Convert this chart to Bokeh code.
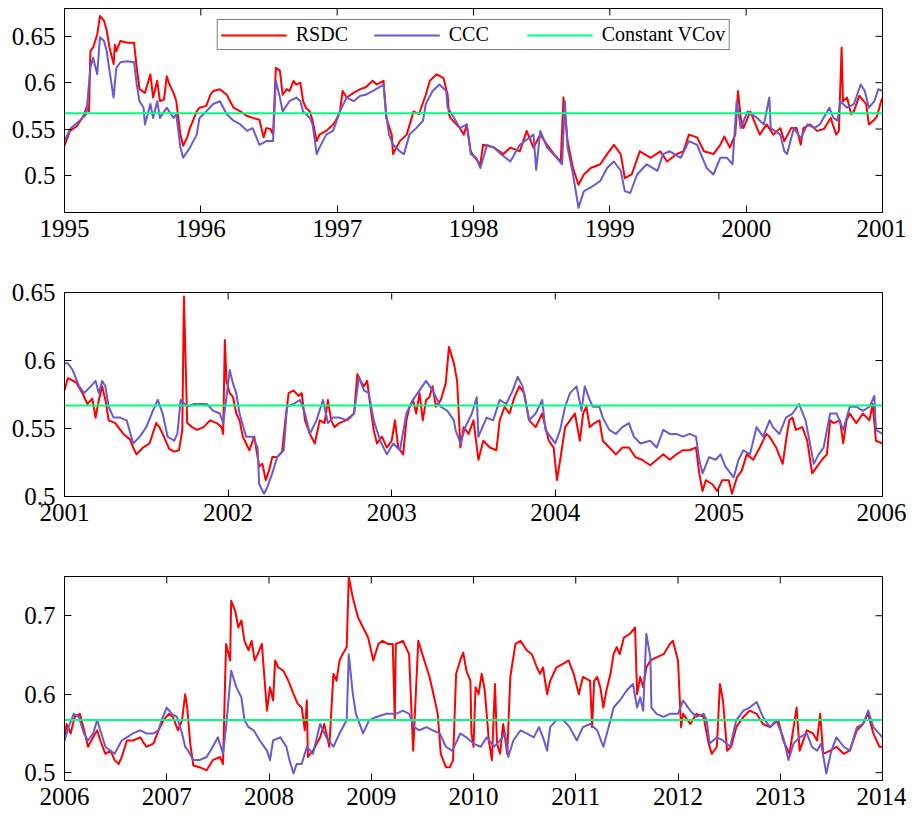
from bokeh.plotting import figure
from bokeh.layouts import column
from bokeh.models import FixedTicker, Legend, LegendItem, Range1d, CustomJSTickFormatter
from bokeh.embed import file_html
from bokeh.resources import INLINE

SERIES_NAMES = ["RSDC", "CCC", "Constant VCov"]
CONST_VCOV = 0.567

# ---------------- Panel 1: 1995-2001 ----------------
p1_years = [1995, 1996, 1997, 1998, 1999, 2000, 2001]
p1_year_labels = ["1995", "1996", "1997", "1998", "1999", "2000", "2001"]
p1_yticks = [0.5, 0.55, 0.6, 0.65]
p1_ylabels = ["0.5", "0.55", "0.6", "0.65"]
p1_yrange = [0.46, 0.68]

p1_rsdc_t = [1995.00,1995.04,1995.09,1995.14,1995.16,1995.18,1995.19,1995.21,1995.24,1995.26,1995.29,1995.31,1995.33,1995.36,1995.37,1995.38,1995.41,1995.46,1995.51,1995.53,1995.55,1995.59,1995.63,1995.65,1995.68,1995.70,1995.73,1995.75,1995.77,1995.80,1995.82,1995.85,1995.87,1995.90,1995.92,1995.97,1995.99,1996.04,1996.07,1996.09,1996.14,1996.19,1996.24,1996.29,1996.34,1996.38,1996.43,1996.46,1996.48,1996.51,1996.53,1996.55,1996.58,1996.60,1996.63,1996.65,1996.68,1996.70,1996.73,1996.75,1996.77,1996.80,1996.82,1996.85,1996.87,1996.92,1996.97,1996.99,1997.02,1997.04,1997.07,1997.12,1997.17,1997.21,1997.26,1997.29,1997.34,1997.36,1997.40,1997.41,1997.46,1997.51,1997.56,1997.60,1997.65,1997.68,1997.73,1997.78,1997.81,1997.82,
             1997.83,1997.90,1997.93,1997.95,1997.98,1998.00,1998.05,1998.07,1998.15,1998.22,1998.27,1998.34,1998.39,1998.44,1998.49,1998.54,1998.59,1998.64,1998.66,1998.69,1998.73,1998.77,1998.81,1998.86,1998.93,1998.98,1999.03,1999.08,1999.11,1999.16,1999.22,1999.30,1999.37,1999.42,1999.49,1999.54,1999.58,1999.64,1999.69,1999.76,1999.81,1999.84,1999.88,1999.92,1999.94,1999.96,1999.98,2000.03,2000.08,2000.10,2000.15,2000.20,2000.25,2000.28,2000.33,2000.37,2000.40,2000.42,2000.47,2000.52,2000.57,2000.62,2000.66,2000.68,2000.70,2000.71,2000.74,2000.77,2000.79,2000.83,2000.88,2000.90,2000.94,2000.96,2000.99,2001.00]
p1_rsdc_v = [0.532,0.548,0.553,0.564,0.573,0.569,0.634,0.638,0.652,0.672,0.667,0.656,0.638,0.620,0.641,0.634,0.645,0.643,0.643,0.616,0.593,0.589,0.609,0.584,0.602,0.580,0.582,0.607,0.598,0.589,0.580,0.544,0.532,0.541,0.551,0.569,0.573,0.575,0.587,0.591,0.593,0.587,0.573,0.569,0.564,0.562,0.560,0.541,0.551,0.550,0.544,0.616,0.613,0.587,0.593,0.591,0.602,0.598,0.600,0.580,0.573,0.569,0.559,0.537,0.544,0.548,0.555,0.559,0.569,0.591,0.584,0.589,0.593,0.595,0.602,0.598,0.602,0.562,0.544,0.523,0.537,0.544,0.569,0.566,0.587,0.602,0.609,0.605,0.587,0.566,
             0.562,0.551,0.544,0.555,0.526,0.521,0.512,0.533,0.530,0.523,0.530,0.526,0.548,0.530,0.544,0.533,0.523,0.515,0.584,0.537,0.508,0.490,0.501,0.508,0.512,0.523,0.533,0.523,0.497,0.501,0.526,0.519,0.526,0.515,0.523,0.526,0.544,0.541,0.526,0.523,0.533,0.542,0.530,0.544,0.591,0.562,0.551,0.569,0.551,0.544,0.555,0.544,0.551,0.537,0.551,0.551,0.533,0.551,0.555,0.548,0.550,0.562,0.544,0.548,0.638,0.580,0.584,0.566,0.569,0.586,0.577,0.555,0.560,0.564,0.580,0.584]

p1_ccc_t = [1995.00,1995.04,1995.11,1995.16,1995.19,1995.21,1995.24,1995.26,1995.29,1995.31,1995.33,1995.36,1995.38,1995.41,1995.46,1995.51,1995.53,1995.55,1995.58,1995.59,1995.63,1995.65,1995.68,1995.70,1995.75,1995.80,1995.82,1995.85,1995.87,1995.92,1995.97,1995.99,1996.04,1996.09,1996.14,1996.19,1996.24,1996.29,1996.34,1996.38,1996.43,1996.48,1996.53,1996.55,1996.58,1996.60,1996.65,1996.70,1996.73,1996.75,1996.80,1996.82,1996.85,1996.87,1996.92,1996.97,1997.02,1997.07,1997.12,1997.17,1997.21,1997.26,1997.34,1997.36,1997.38,1997.41,1997.46,1997.49,1997.53,1997.58,1997.63,1997.65,1997.70,1997.75,1997.80,1997.81,
            1997.83,1997.90,1997.95,1997.98,1998.02,1998.05,1998.10,1998.15,1998.20,1998.27,1998.34,1998.44,1998.46,1998.49,1998.54,1998.61,1998.65,1998.67,1998.69,1998.73,1998.77,1998.81,1998.86,1998.93,1998.98,1999.03,1999.08,1999.11,1999.15,1999.20,1999.27,1999.35,1999.39,1999.44,1999.52,1999.58,1999.64,1999.71,1999.76,1999.81,1999.86,1999.90,1999.93,1999.96,2000.01,2000.08,2000.13,2000.17,2000.18,2000.25,2000.28,2000.30,2000.35,2000.40,2000.45,2000.50,2000.54,2000.61,2000.64,2000.67,2000.69,2000.74,2000.79,2000.84,2000.87,2000.90,2000.94,2000.97,2001.00]
p1_ccc_v = [0.537,0.550,0.559,0.566,0.616,0.627,0.609,0.649,0.645,0.634,0.613,0.584,0.616,0.622,0.623,0.622,0.598,0.580,0.573,0.555,0.577,0.562,0.580,0.562,0.573,0.562,0.566,0.530,0.519,0.530,0.544,0.562,0.569,0.577,0.580,0.566,0.559,0.555,0.548,0.551,0.533,0.537,0.537,0.602,0.584,0.569,0.580,0.584,0.580,0.569,0.562,0.555,0.523,0.530,0.544,0.548,0.569,0.584,0.580,0.586,0.587,0.591,0.598,0.566,0.544,0.533,0.526,0.523,0.544,0.551,0.559,0.577,0.591,0.598,0.591,0.573,
            0.569,0.551,0.555,0.523,0.519,0.508,0.533,0.530,0.523,0.515,0.533,0.544,0.506,0.548,0.530,0.519,0.512,0.580,0.530,0.501,0.465,0.483,0.487,0.494,0.508,0.515,0.505,0.483,0.481,0.501,0.512,0.505,0.523,0.526,0.519,0.537,0.533,0.508,0.501,0.519,0.519,0.512,0.580,0.551,0.569,0.562,0.555,0.584,0.551,0.544,0.526,0.523,0.551,0.540,0.555,0.551,0.555,0.573,0.562,0.559,0.580,0.573,0.577,0.598,0.591,0.573,0.580,0.593,0.591]

# ---------------- Panel 2: 2001-2006 ----------------
p2_years = [2001, 2002, 2003, 2004, 2005, 2006]
p2_year_labels = ["2001", "2002", "2003", "2004", "2005", "2006"]
p2_yticks = [0.5, 0.55, 0.6, 0.65]
p2_ylabels = ["0.5", "0.55", "0.6", "0.65"]
p2_yrange = [0.5, 0.65]

p2_rsdc_t = [2001.00,2001.02,2001.07,2001.11,2001.14,2001.17,2001.19,2001.21,2001.23,2001.25,2001.27,2001.31,2001.36,2001.40,2001.42,2001.44,2001.48,2001.52,2001.56,2001.58,2001.60,2001.64,2001.67,2001.70,2001.72,2001.73,2001.75,2001.78,2001.81,2001.85,2001.89,2001.93,2001.96,2001.97,2001.98,2001.99,2002.01,2002.03,2002.05,2002.07,2002.09,2002.11,2002.13,2002.16,2002.19,2002.21,2002.23,2002.25,2002.27,2002.30,2002.33,2002.35,2002.37,2002.40,2002.43,2002.45,2002.47,2002.50,2002.53,2002.56,2002.59,2002.61,2002.63,2002.65,2002.68,2002.72,2002.77,2002.79,2002.81,2002.83,2002.85,2002.87,2002.89,2002.91,2002.94,2002.97,2003.00,2003.02,2003.04,2003.07,2003.09,2003.11,2003.13,2003.15,2003.17,2003.19,2003.21,2003.23,2003.25,2003.27,2003.30,2003.33,2003.35,2003.38,2003.40,2003.42,
             2003.44,2003.47,2003.50,2003.53,2003.56,2003.60,2003.64,2003.66,2003.69,2003.72,2003.75,2003.78,2003.81,2003.84,2003.88,2003.92,2003.96,2003.99,2004.01,2004.03,2004.06,2004.09,2004.12,2004.15,2004.17,2004.19,2004.21,2004.24,2004.27,2004.29,2004.33,2004.37,2004.41,2004.45,2004.49,2004.53,2004.58,2004.62,2004.66,2004.70,2004.74,2004.78,2004.82,2004.86,2004.88,2004.90,2004.92,2004.96,2004.99,2005.02,2005.06,2005.08,2005.11,2005.14,2005.17,2005.21,2005.25,2005.29,2005.31,2005.35,2005.39,2005.41,2005.43,2005.45,2005.47,2005.51,2005.54,2005.57,2005.60,2005.63,2005.66,2005.68,2005.70,2005.74,2005.76,2005.78,2005.80,2005.84,2005.88,2005.92,2005.94,2005.96,2006.00]
p2_rsdc_v = [0.578,0.587,0.584,0.576,0.568,0.572,0.558,0.571,0.581,0.571,0.556,0.554,0.546,0.542,0.536,0.531,0.536,0.539,0.554,0.551,0.546,0.535,0.533,0.534,0.549,0.647,0.554,0.551,0.549,0.551,0.556,0.554,0.551,0.546,0.615,0.585,0.576,0.573,0.561,0.556,0.544,0.539,0.534,0.544,0.522,0.524,0.512,0.519,0.529,0.529,0.533,0.556,0.576,0.578,0.574,0.576,0.556,0.546,0.539,0.556,0.554,0.571,0.556,0.551,0.554,0.556,0.561,0.590,0.585,0.581,0.585,0.566,0.549,0.539,0.544,0.536,0.541,0.556,0.536,0.531,0.556,0.566,0.571,0.561,0.576,0.556,0.571,0.573,0.581,0.566,0.571,0.583,0.610,0.598,0.585,0.536,
             0.551,0.546,0.556,0.527,0.541,0.536,0.534,0.556,0.566,0.561,0.573,0.581,0.576,0.556,0.551,0.561,0.541,0.536,0.512,0.527,0.551,0.556,0.561,0.541,0.561,0.566,0.551,0.554,0.556,0.541,0.536,0.531,0.536,0.536,0.529,0.527,0.523,0.527,0.531,0.527,0.531,0.534,0.534,0.536,0.517,0.504,0.512,0.509,0.504,0.512,0.512,0.502,0.514,0.519,0.531,0.527,0.536,0.546,0.544,0.536,0.524,0.541,0.556,0.558,0.549,0.551,0.541,0.517,0.522,0.527,0.531,0.556,0.554,0.556,0.539,0.556,0.561,0.554,0.561,0.556,0.568,0.541,0.539]

p2_ccc_t = [2001.00,2001.02,2001.05,2001.09,2001.12,2001.16,2001.19,2001.21,2001.23,2001.25,2001.27,2001.30,2001.34,2001.38,2001.42,2001.46,2001.50,2001.54,2001.57,2001.60,2001.63,2001.67,2001.69,2001.71,2001.75,2001.79,2001.83,2001.87,2001.91,2001.95,2001.97,2001.99,2002.01,2002.03,2002.05,2002.07,2002.11,2002.15,2002.18,2002.19,2002.22,2002.24,2002.27,2002.30,2002.34,2002.36,2002.40,2002.44,2002.47,2002.50,2002.54,2002.58,2002.61,2002.64,2002.68,2002.73,2002.77,2002.80,2002.83,2002.86,2002.89,2002.93,2002.97,2003.01,2003.05,2003.09,2003.13,2003.17,2003.21,2003.25,2003.30,2003.34,2003.38,
            2003.39,2003.42,2003.45,2003.49,2003.52,2003.53,2003.58,2003.62,2003.66,2003.70,2003.74,2003.77,2003.80,2003.84,2003.88,2003.92,2003.94,2003.97,2004.00,2004.03,2004.06,2004.09,2004.13,2004.16,2004.18,2004.21,2004.23,2004.27,2004.29,2004.33,2004.37,2004.41,2004.45,2004.48,2004.52,2004.58,2004.62,2004.66,2004.70,2004.74,2004.78,2004.82,2004.86,2004.88,2004.90,2004.94,2004.98,2005.01,2005.04,2005.09,2005.12,2005.15,2005.19,2005.23,2005.27,2005.31,2005.33,2005.37,2005.41,2005.45,2005.49,2005.53,2005.58,2005.61,2005.64,2005.68,2005.72,2005.76,2005.80,2005.84,2005.88,2005.92,2005.95,2005.96,2006.00]
p2_ccc_v = [0.598,0.598,0.593,0.581,0.576,0.581,0.585,0.576,0.585,0.581,0.566,0.558,0.558,0.556,0.539,0.544,0.551,0.563,0.571,0.561,0.544,0.541,0.546,0.571,0.566,0.568,0.568,0.568,0.563,0.561,0.554,0.573,0.593,0.583,0.576,0.561,0.544,0.544,0.536,0.509,0.502,0.507,0.517,0.529,0.534,0.566,0.568,0.571,0.561,0.546,0.556,0.571,0.554,0.558,0.558,0.556,0.561,0.588,0.578,0.576,0.556,0.541,0.531,0.539,0.534,0.561,0.571,0.578,0.585,0.578,0.566,0.563,0.556,
            0.549,0.539,0.551,0.561,0.573,0.544,0.558,0.556,0.571,0.568,0.578,0.588,0.581,0.556,0.561,0.571,0.549,0.544,0.539,0.549,0.566,0.576,0.581,0.563,0.581,0.571,0.566,0.566,0.558,0.549,0.546,0.551,0.554,0.544,0.539,0.541,0.536,0.549,0.546,0.546,0.544,0.546,0.544,0.527,0.517,0.529,0.527,0.531,0.522,0.514,0.527,0.534,0.531,0.551,0.544,0.556,0.551,0.546,0.558,0.561,0.568,0.556,0.524,0.531,0.536,0.561,0.561,0.549,0.566,0.566,0.563,0.566,0.574,0.549,0.546]

# ---------------- Panel 3: 2006-2014 ----------------
p3_years = [2006, 2007, 2008, 2009, 2010, 2011, 2012, 2013, 2014]
p3_year_labels = ["2006", "2007", "2008", "2009", "2010", "2011", "2012", "2013", "2014"]
p3_yticks = [0.5, 0.6, 0.7]
p3_ylabels = ["0.5", "0.6", "0.7"]
p3_yrange = [0.49, 0.75]

p3_rsdc_t = [2006.00,2006.02,2006.06,2006.10,2006.15,2006.20,2006.23,2006.28,2006.32,2006.35,2006.40,2006.45,2006.49,2006.53,2006.56,2006.61,2006.67,2006.74,2006.80,2006.87,2006.92,2006.97,2007.02,2007.06,2007.11,2007.15,2007.18,2007.20,2007.23,2007.26,2007.32,2007.39,2007.45,2007.52,2007.55,2007.58,2007.62,2007.63,2007.67,2007.70,2007.73,2007.76,2007.80,2007.83,2007.86,2007.89,2007.93,2007.98,2008.01,2008.04,2008.06,2008.09,2008.14,2008.19,2008.24,2008.28,2008.32,2008.35,2008.37,2008.38,2008.43,2008.50,2008.54,2008.59,2008.63,2008.66,2008.69,2008.72,2008.76,2008.78,2008.82,2008.87,2008.92,2008.97,2009.02,2009.07,2009.11,2009.16,2009.21,2009.23,2009.24,2009.31,2009.37,2009.41,2009.46,2009.50,2009.57,2009.60,2009.65,2009.68,2009.73,
             2009.77,2009.80,2009.83,2009.87,2009.90,2009.93,2009.97,2009.98,2010.00,2010.02,2010.05,2010.08,2010.11,2010.15,2010.18,2010.21,2010.23,2010.26,2010.29,2010.33,2010.36,2010.41,2010.46,2010.52,2010.57,2010.62,2010.65,2010.68,2010.72,2010.75,2010.81,2010.88,2010.93,2010.98,2011.03,2011.07,2011.14,2011.16,2011.18,2011.21,2011.24,2011.27,2011.30,2011.34,2011.37,2011.40,2011.43,2011.47,2011.53,2011.58,2011.60,2011.63,2011.66,2011.69,2011.73,2011.79,2011.86,2011.92,2011.95,2012.00,2012.03,2012.05,2012.12,2012.18,2012.25,2012.30,2012.33,2012.38,2012.41,2012.44,2012.48,2012.52,2012.57,2012.64,2012.70,2012.77,2012.83,2012.90,2012.98,2013.03,2013.09,2013.16,2013.19,2013.26,2013.32,2013.36,2013.39,2013.42,2013.49,2013.55,2013.62,2013.68,2013.75,2013.81,2013.86,2013.91,2013.97,2014.00]
p3_rsdc_v = [0.541,0.562,0.550,0.571,0.575,0.550,0.533,0.545,0.554,0.541,0.524,0.528,0.516,0.511,0.520,0.541,0.541,0.545,0.533,0.537,0.554,0.567,0.575,0.571,0.554,0.567,0.600,0.583,0.537,0.509,0.507,0.503,0.516,0.520,0.511,0.664,0.643,0.719,0.706,0.685,0.694,0.668,0.656,0.668,0.643,0.651,0.664,0.579,0.609,0.592,0.643,0.634,0.630,0.617,0.600,0.588,0.583,0.554,0.592,0.520,0.528,0.545,0.562,0.533,0.626,0.617,0.643,0.651,0.660,0.749,0.723,0.698,0.685,0.672,0.643,0.664,0.668,0.664,0.664,0.567,0.664,0.668,0.651,0.528,0.668,0.651,0.622,0.605,0.575,0.524,0.507,
             0.507,0.516,0.626,0.643,0.653,0.630,0.617,0.550,0.533,0.609,0.600,0.626,0.605,0.541,0.516,0.613,0.537,0.524,0.562,0.524,0.622,0.664,0.668,0.656,0.651,0.634,0.626,0.634,0.600,0.617,0.634,0.639,0.643,0.626,0.600,0.622,0.617,0.558,0.617,0.622,0.609,0.583,0.605,0.626,0.651,0.660,0.651,0.672,0.677,0.685,0.600,0.622,0.609,0.634,0.643,0.647,0.651,0.664,0.668,0.643,0.558,0.575,0.562,0.575,0.571,0.537,0.524,0.533,0.613,0.592,0.528,0.533,0.558,0.571,0.579,0.575,0.562,0.558,0.567,0.541,0.524,0.583,0.528,0.554,0.550,0.541,0.575,0.524,0.528,0.533,0.524,0.528,0.554,0.562,0.575,0.550,0.533,0.533]

p3_ccc_t = [2006.00,2006.04,2006.09,2006.14,2006.19,2006.23,2006.28,2006.32,2006.35,2006.40,2006.45,2006.49,2006.56,2006.61,2006.67,2006.74,2006.80,2006.87,2006.92,2006.95,2007.00,2007.05,2007.10,2007.15,2007.18,2007.21,2007.26,2007.32,2007.39,2007.45,2007.50,2007.55,2007.58,2007.63,2007.68,2007.73,2007.76,2007.80,2007.85,2007.91,2007.98,2008.01,2008.04,2008.11,2008.17,2008.20,2008.24,2008.27,2008.32,2008.37,2008.43,2008.50,2008.56,2008.63,2008.69,2008.76,2008.78,2008.82,2008.85,2008.92,2008.98,2009.05,2009.15,2009.24,2009.31,2009.37,2009.42,2009.47,2009.54,2009.60,2009.67,2009.73,2009.79,
            2009.84,2009.87,2009.93,2010.00,2010.07,2010.13,2010.20,2010.26,2010.31,2010.34,2010.39,2010.46,2010.52,2010.59,2010.64,2010.68,2010.72,2010.75,2010.81,2010.88,2010.94,2011.01,2011.07,2011.14,2011.21,2011.27,2011.34,2011.37,2011.43,2011.50,2011.56,2011.60,2011.63,2011.66,2011.69,2011.73,2011.74,2011.79,2011.86,2011.92,2012.00,2012.05,2012.12,2012.18,2012.25,2012.28,2012.31,2012.38,2012.44,2012.51,2012.57,2012.64,2012.70,2012.77,2012.83,2012.90,2012.96,2013.03,2013.08,2013.13,2013.19,2013.26,2013.31,2013.36,2013.40,2013.45,2013.50,2013.55,2013.62,2013.68,2013.75,2013.81,2013.86,2013.91,2014.00]
p3_ccc_v = [0.541,0.558,0.575,0.571,0.550,0.541,0.550,0.567,0.554,0.533,0.528,0.524,0.541,0.545,0.550,0.554,0.550,0.550,0.554,0.567,0.583,0.575,0.571,0.550,0.533,0.528,0.516,0.516,0.520,0.533,0.545,0.524,0.558,0.630,0.609,0.596,0.567,0.558,0.554,0.541,0.528,0.516,0.541,0.545,0.533,0.516,0.499,0.511,0.511,0.533,0.524,0.562,0.545,0.533,0.550,0.567,0.651,0.600,0.575,0.550,0.567,0.571,0.575,0.575,0.579,0.575,0.558,0.554,0.558,0.554,0.550,0.533,0.528,
            0.541,0.550,0.545,0.537,0.533,0.545,0.533,0.541,0.550,0.520,0.541,0.554,0.550,0.545,0.558,0.545,0.528,0.558,0.567,0.567,0.558,0.541,0.558,0.562,0.554,0.533,0.567,0.583,0.592,0.605,0.613,0.583,0.596,0.579,0.677,0.647,0.583,0.575,0.571,0.575,0.575,0.592,0.579,0.571,0.575,0.567,0.537,0.545,0.541,0.533,0.567,0.579,0.583,0.590,0.571,0.558,0.567,0.545,0.516,0.537,0.545,0.550,0.533,0.528,0.537,0.499,0.528,0.545,0.533,0.528,0.558,0.562,0.579,0.558,0.545]

RED = "#ff0000"
BLUE = "#6a5acd"
GREEN = "#00ff7f"
FONT = "Liberation Serif"
TICK_PX = 7
FRAME_H = 204
FRAME_W = 818

LABEL_JS = "const i = tvals.indexOf(tick); return i >= 0 ? tlabels[i] : String(tick);"


def style_axis(ax, ticks, labels, standoff):
    ax.ticker = FixedTicker(ticks=ticks)
    ax.formatter = CustomJSTickFormatter(args=dict(tvals=ticks, tlabels=labels), code=LABEL_JS)
    ax.major_tick_in = TICK_PX
    ax.major_tick_out = 0
    ax.minor_tick_in = 0
    ax.minor_tick_out = 0
    ax.major_tick_line_color = "black"
    ax.axis_line_color = "black"
    ax.major_label_text_font = FONT
    ax.major_label_text_font_size = "25px"
    ax.major_label_text_color = "black"
    ax.major_label_standoff = standoff


def make_panel(years, year_labels, yticks, ylabels, yrange, rt, rv, ct, cv,
               top, bottom, legend=False):
    p = figure(width=64 + FRAME_W + 24, height=top + FRAME_H + bottom,
               x_range=Range1d(years[0], years[-1]),
               y_range=Range1d(yrange[0], yrange[1]),
               output_backend="svg", toolbar_location=None,
               min_border_left=64, min_border_right=24,
               min_border_top=top, min_border_bottom=bottom)
    p.grid.visible = False
    p.outline_line_color = "black"
    p.outline_line_alpha = 1
    p.background_fill_color = "white"
    p.border_fill_color = "white"

    r1 = p.line(rt, rv, line_color=RED, line_width=2, line_join="round")
    r2 = p.line(ct, cv, line_color=BLUE, line_width=2, line_join="round")
    r3 = p.line([years[0], years[-1]], [CONST_VCOV, CONST_VCOV],
                line_color=GREEN, line_width=2)

    style_axis(p.xaxis[0], years, year_labels, 7)
    style_axis(p.yaxis[0], yticks, ylabels, 9)

    # inward ticks on the top and right edges of the box (MATLAB style)
    dy = (yrange[1] - yrange[0]) * TICK_PX / FRAME_H
    dx = (years[-1] - years[0]) * TICK_PX / FRAME_W
    p.segment(x0=years, y0=[yrange[1]] * len(years), x1=years,
              y1=[yrange[1] - dy] * len(years), line_color="black", line_width=1)
    p.segment(x0=[years[-1]] * len(yticks), y0=yticks,
              x1=[years[-1] - dx] * len(yticks), y1=yticks,
              line_color="black", line_width=1)

    if legend:
        lg = Legend(items=[LegendItem(label=SERIES_NAMES[0], renderers=[r1]),
                           LegendItem(label=SERIES_NAMES[1], renderers=[r2]),
                           LegendItem(label=SERIES_NAMES[2], renderers=[r3])],
                    orientation="horizontal", location="top_center")
        lg.margin = 11
        lg.padding = 3
        lg.spacing = 12
        lg.glyph_width = 66
        lg.glyph_height = 20
        lg.label_width = 66
        lg.label_height = 20
        lg.label_standoff = 9
        lg.label_text_font = FONT
        lg.label_text_font_size = "20px"
        lg.label_text_color = "black"
        lg.border_line_color = "black"
        lg.border_line_width = 1
        lg.background_fill_color = "white"
        lg.background_fill_alpha = 1
        p.add_layout(lg)
    return p


p1 = make_panel(p1_years, p1_year_labels, p1_yticks, p1_ylabels, p1_yrange,
                p1_rsdc_t, p1_rsdc_v, p1_ccc_t, p1_ccc_v, 8, 40, legend=True)
p2 = make_panel(p2_years, p2_year_labels, p2_yticks, p2_ylabels, p2_yrange,
                p2_rsdc_t, p2_rsdc_v, p2_ccc_t, p2_ccc_v, 40, 38)
p3 = make_panel(p3_years, p3_year_labels, p3_yticks, p3_ylabels, p3_yrange,
                p3_rsdc_t, p3_rsdc_v, p3_ccc_t, p3_ccc_v, 42, 35)

layout = column(p1, p2, p3, spacing=0)
open("out.html", "w").write(file_html(layout, INLINE))
